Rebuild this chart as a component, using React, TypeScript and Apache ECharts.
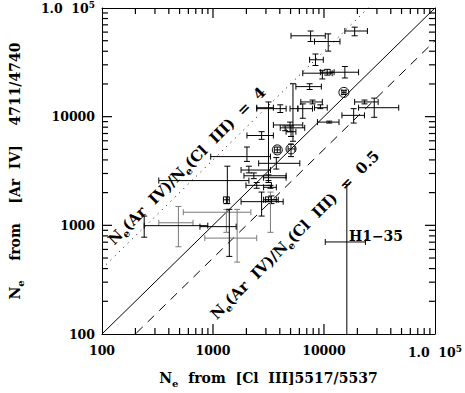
import React, { useEffect, useRef } from "react";
import * as echarts from "echarts";

// Ne from [Cl III] 5517/5537 (x) with lower / upper error limits
const NE_CL = [18900, 7579, 10921, 8386, 9667, 10702, 15429, 7425, 15120, 4036, 3162, 5256, 6440, 7892, 9284, 11146, 18520, 23170, 28380, 4946, 4467, 5047, 2743, 2023, 3797, 5047, 3721, 1347, 2107, 2333, 2479, 2743, 3362, 1320, 488, 240, 1651, 3294, 1320, 1403, 3162, 3294, 3162, 16070];
const NE_CL_LO = [15429, 5047, 8219, 7425, 6440, 9284, 11374, 5586, 14500, 2479, 2479, 4946, 5818, 6183, 8219, 8734, 14516, 18900, 20500, 3501, 4036, 4560, 2023, 954, 3573, 4750, 2581, 325, 1791, 1903, 1982, 1791, 2976, 1242, 325, 240, 844, 3294, 540, 763, 2858, 2858, 2858, 10275];
const NE_CL_HI = [24630, 10275, 13941, 9867, 11847, 12337, 20500, 9474, 15800, 4560, 3501, 5818, 7892, 9667, 10702, 13661, 23170, 30780, 47170, 6440, 6706, 5586, 3501, 3294, 4036, 5474, 6059, 2107, 3294, 4560, 3362, 4290, 3875, 1403, 661, 898, 2479, 3294, 2194, 1618, 4560, 3721, 3721, 23640];
// Ne from [Ar IV] 4711/4740 (y) with lower / upper error limits
const NE_AR = [61420, 55500, 49130, 33400, 25120, 25640, 25640, 18900, 16730, 11850, 12090, 11850, 11850, 13660, 12090, 8913, 10280, 13660, 12090, 8386, 7892, 7273, 6706, 4290, 4946, 5047, 3721, 2581, 3227, 2858, 2333, 1651, 1719, 1719, 1056, 993, 763, 1553, 1320, 973, 2743, 2239, 1719, 703];
const NE_AR_LO = [55500, 49130, 40090, 29560, 22240, 24120, 22690, 17780, 16000, 10920, 2479, 5936, 9667, 13110, 11850, 8734, 8734, 13110, 9867, 7273, 7425, 6573, 6183, 3875, 4654, 4290, 3294, 1585, 3037, 2688, 2194, 1217, 1585, 1585, 635, 778, 459, 862, 862, 518, 2581, 2194, 1651, 50];
const NE_AR_HI = [66630, 61420, 57800, 37720, 26700, 27250, 28960, 20090, 17500, 12850, 13660, 20090, 13110, 14220, 12850, 9097, 11850, 14220, 14810, 8913, 8219, 8219, 7273, 5256, 5256, 5586, 4203, 3501, 3501, 3037, 2479, 2023, 1865, 1827, 1491, 1217, 1403, 2023, 1403, 1403, 2915, 2333, 1827, 2379];

// Reference lines Ne(Ar IV) = ratio * Ne(Cl III)
const LINE_RATIOS = [1, 4, 0.5];
const AXIS_MIN = 100;
const AXIS_MAX = 100000;
const MAJOR_TICKS = [1000, 10000];
const MINOR_TICKS = [200, 300, 400, 500, 600, 700, 800, 900, 2000, 3000, 4000, 5000, 6000, 7000, 8000, 9000, 20000, 30000, 40000, 50000, 60000, 70000, 80000, 90000];

// styles
const CIRCLED = [8, 24, 25];
const GRAY_POINTS = [34, 36, 37, 38];
const LINE_STYLES: any[] = ["solid", [1, 5], [9, 7]];
const FONT = "'DejaVu Serif', serif";
const MAJOR_LEN = 10;
const MINOR_LEN = 6;

export default function App() {
  const ref = useRef<HTMLDivElement>(null);
  useEffect(() => {
    const chart = echarts.init(ref.current!, null, { renderer: "svg" });
    const labelFmt = (v: number) => {
      const r = Math.round(v);
      if (r >= 99999) return "{n|1.0  10}{sup|5}";
      return String(r);
    };
    const labelRich = {
      n: { fontFamily: FONT, fontWeight: "bold", fontSize: 12.5, color: "#000", lineHeight: 16 },
      sup: { fontFamily: FONT, fontWeight: "bold", fontSize: 9, color: "#000", verticalAlign: "top", lineHeight: 9 },
    };
    const nameRich = {
      t: { fontFamily: FONT, fontWeight: "bold", fontSize: 14, color: "#000", lineHeight: 20 },
      s: { fontFamily: FONT, fontWeight: "bold", fontSize: 10, color: "#000", verticalAlign: "bottom", lineHeight: 8 },
    };
    const frameLine = { show: true, lineStyle: { color: "#000", width: 1 } };
    const base = {
      type: "log",
      logBase: 10,
      min: AXIS_MIN,
      max: AXIS_MAX,
      splitLine: { show: false },
      axisLine: frameLine,
      axisTick: { show: false },
      minorTick: { show: false },
    };
    const mirrorAxis = (position: string) => ({
      ...base,
      position,
      axisLabel: { show: false },
    });
    const mainAxis = (position: string, name: string, gap: number, margin: number) => ({
      ...base,
      position,
      name,
      nameLocation: "middle",
      nameGap: gap,
      nameTextStyle: { rich: nameRich },
      axisLabel: {
        margin,
        color: "#000",
        fontFamily: FONT,
        fontWeight: "bold",
        fontSize: 12.5,
        formatter: labelFmt,
        rich: labelRich,
      },
    });

    const pointData = NE_CL.map((x, i) => [x, NE_AR[i], NE_CL_LO[i], NE_CL_HI[i], NE_AR_LO[i], NE_AR_HI[i]]);
    const tickData = [
      ...MAJOR_TICKS.map((v) => [v, v, MAJOR_LEN]),
      ...MINOR_TICKS.map((v) => [v, v, MINOR_LEN]),
    ];

    const lineSeries = LINE_RATIOS.map((r, k) => ({
      type: "line",
      xAxisIndex: 0,
      yAxisIndex: 0,
      data: [
        [AXIS_MIN, AXIS_MIN * r],
        [AXIS_MAX, AXIS_MAX * r],
      ],
      showSymbol: false,
      symbol: "none",
      clip: true,
      silent: true,
      lineStyle: { color: "#000", width: 1, type: LINE_STYLES[k] },
      z: 2,
    }));

    const richLabel = {
      t: { fontFamily: FONT, fontWeight: "bold", fontSize: 15, fill: "#000", lineHeight: 20 },
      s: { fontFamily: FONT, fontWeight: "bold", fontSize: 10, fill: "#000", verticalAlign: "bottom", lineHeight: 8 },
    };

    const option: any = {
      animation: false,
      backgroundColor: "#fff",
      grid: { left: 95, top: 8, width: 340, height: 340, show: false },
      xAxis: [
        mainAxis("bottom", "{t|N}{s|e}{t|  from  [Cl  III]5517/5537}", 34, 10),
        mirrorAxis("top"),
      ],
      yAxis: [
        { ...mainAxis("left", "{t|N}{s|e}{t|    from    [Ar  IV]    4711/4740}", 77, 7), nameRotate: 90 },
        mirrorAxis("right"),
      ],
      series: [
        ...lineSeries,
        {
          // tick marks on all four sides, through the axes' scales
          type: "custom",
          xAxisIndex: 0,
          yAxisIndex: 0,
          silent: true,
          clip: false,
          encode: { x: 0, y: 1 },
          data: tickData,
          renderItem: (params: any, api: any) => {
            const v = api.value(0);
            const len = api.value(2);
            const p = api.coord([v, v]);
            const lo = api.coord([AXIS_MIN, AXIS_MIN]);
            const hi = api.coord([AXIS_MAX, AXIS_MAX]);
            const st = { stroke: "#000", lineWidth: 1.2, fill: null };
            return {
              type: "group",
              children: [
                { type: "rect", shape: { x: p[0] - 0.6, y: lo[1] - len, width: 1.2, height: len }, style: { fill: "#000" } },
                { type: "rect", shape: { x: p[0] - 0.6, y: hi[1], width: 1.2, height: len }, style: { fill: "#000" } },
                { type: "rect", shape: { x: lo[0], y: p[1] - 0.6, width: len, height: 1.2 }, style: { fill: "#000" } },
                { type: "rect", shape: { x: hi[0] - len, y: p[1] - 0.6, width: len, height: 1.2 }, style: { fill: "#000" } },
              ],
            };
          },
          z: 5,
        },
        {
          type: "custom",
          xAxisIndex: 0,
          yAxisIndex: 0,
          silent: true,
          clip: false,
          encode: { x: 0, y: 1 },
          data: pointData,
          renderItem: (params: any, api: any) => {
            const i = params.dataIndex;
            const x = api.value(0), y = api.value(1);
            const c = api.coord([x, y]);
            const L = api.coord([api.value(2), y]);
            const R = api.coord([api.value(3), y]);
            const B = api.coord([x, Math.max(api.value(4), AXIS_MIN)]);
            const T = api.coord([x, api.value(5)]);
            const clipped = api.value(4) < AXIS_MIN;
            const color = GRAY_POINTS.includes(i) ? "#7a7a7a" : "#000";
            const st = { stroke: color, lineWidth: 1 };
            const cap = 3;
            const ch: any[] = [];
            if (R[0] - L[0] > 0.5) {
              ch.push({ type: "line", shape: { x1: L[0], y1: c[1], x2: R[0], y2: c[1] }, style: st });
              ch.push({ type: "line", shape: { x1: L[0], y1: c[1] - cap, x2: L[0], y2: c[1] + cap }, style: st });
              ch.push({ type: "line", shape: { x1: R[0], y1: c[1] - cap, x2: R[0], y2: c[1] + cap }, style: st });
            }
            if (B[1] - T[1] > 0.5) {
              ch.push({ type: "line", shape: { x1: c[0], y1: B[1], x2: c[0], y2: T[1] }, style: st });
              if (!clipped) ch.push({ type: "line", shape: { x1: c[0] - cap, y1: B[1], x2: c[0] + cap, y2: B[1] }, style: st });
              ch.push({ type: "line", shape: { x1: c[0] - cap, y1: T[1], x2: c[0] + cap, y2: T[1] }, style: st });
            }
            if (CIRCLED.includes(i)) {
              ch.push({ type: "circle", shape: { cx: c[0], cy: c[1], r: 5 }, style: { fill: "none", stroke: color, lineWidth: 1 } });
            }
            return { type: "group", children: ch };
          },
          z: 4,
        },
      ],
      graphic: [
        {
          type: "text",
          x: 187,
          y: 166,
          rotation: Math.PI / 4,
          style: {
            text: "{t|N}{s|e}{t|(Ar  IV)/N}{s|e}{t|(Cl  III)  =  4}",
            align: "center",
            verticalAlign: "middle",
            rich: richLabel,
          },
        },
        {
          type: "text",
          x: 295,
          y: 235,
          rotation: Math.PI / 4,
          style: {
            text: "{t|N}{s|e}{t|(Ar  IV)/N}{s|e}{t|(Cl  III)  =  0.5}",
            align: "center",
            verticalAlign: "middle",
            rich: richLabel,
          },
        },
        {
          type: "text",
          x: 376,
          y: 236,
          style: {
            text: "H1\u221235",
            align: "center",
            verticalAlign: "middle",
            fontFamily: FONT,
            fontWeight: "bold",
            fontSize: 14,
            fill: "#000",
          },
        },
      ],
    };
    chart.setOption(option);
    return () => chart.dispose();
  }, []);
  return (
    <div
      ref={ref}
      style={{ position: "fixed", left: 0, top: 0, width: 465, height: 393, background: "#fff" }}
    />
  );
}
